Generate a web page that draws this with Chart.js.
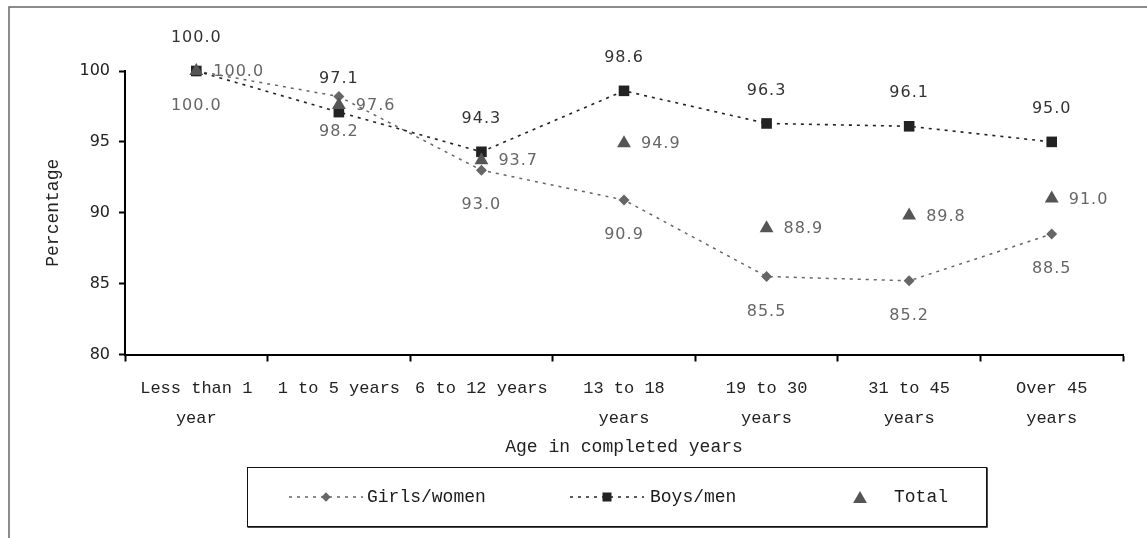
<!DOCTYPE html>
<html>
<head>
<meta charset="utf-8">
<script src="https://cdn.jsdelivr.net/npm/chart.js@4/dist/chart.umd.min.js"></script>
<style>
  html, body { margin: 0; padding: 0; background: #fff; overflow: hidden; }
  #wrap { width: 1147px; height: 538px; position: relative; }
</style>
</head>
<body>
<div id="wrap"><canvas id="c" width="1147" height="538"></canvas></div>
<script>
// Age groups (two-line labels where the text wraps)
const categories = [
  ['Less than 1', 'year'],
  '1 to 5 years',
  '6 to 12 years',
  ['13 to 18', 'years'],
  ['19 to 30', 'years'],
  ['31 to 45', 'years'],
  ['Over 45', 'years']
];
// Percentages by age group
const girlsWomen = [100.0, 98.2, 93.0, 90.9, 85.5, 85.2, 88.5];
const boysMen    = [100.0, 97.1, 94.3, 98.6, 96.3, 96.1, 95.0];
const total      = [100.0, 97.6, 93.7, 94.9, 88.9, 89.8, 91.0];
const yTicks     = [80, 85, 90, 95, 100];

const LABEL_FONT = '16px "DejaVu Sans"';
const TEXT_FAMILY = '"Liberation Mono", "DejaVu Sans Mono", monospace';

// White page with the outer frame (top and left edges visible)
const framePlugin = {
  id: 'frame',
  beforeDraw(chart) {
    const ctx = chart.ctx;
    ctx.save();
    ctx.fillStyle = '#fff';
    ctx.fillRect(0, 0, chart.width, chart.height);
    ctx.strokeStyle = '#666';
    ctx.lineWidth = 1.5;
    ctx.beginPath();
    ctx.moveTo(9, chart.height);
    ctx.lineTo(9, 7);
    ctx.lineTo(chart.width, 7);
    ctx.stroke();
    ctx.restore();
  }
};

// Value labels next to each marker
const valueLabels = {
  id: 'valueLabels',
  afterDatasetsDraw(chart) {
    const ctx = chart.ctx;
    ctx.save();
    ctx.font = LABEL_FONT;
    if ('letterSpacing' in ctx) ctx.letterSpacing = '1px';
    chart.data.datasets.forEach((ds, di) => {
      const meta = chart.getDatasetMeta(di);
      ctx.fillStyle = ds.labelColor;
      meta.data.forEach((pt, i) => {
        const txt = ds.data[i].toFixed(1);
        if (ds.labelPlace === 'above') {
          ctx.textAlign = 'center'; ctx.textBaseline = 'middle';
          ctx.fillText(txt, pt.x, pt.y - 33);
        } else if (ds.labelPlace === 'below') {
          ctx.textAlign = 'center'; ctx.textBaseline = 'middle';
          ctx.fillText(txt, pt.x, pt.y + 35);
        } else {
          ctx.textAlign = 'left'; ctx.textBaseline = 'middle';
          ctx.fillText(txt, pt.x + 17, pt.y + 1);
        }
      });
    });
    ctx.restore();
  }
};

// Boxed legend under the axis title
const boxLegend = {
  id: 'boxLegend',
  afterDraw(chart) {
    const ctx = chart.ctx;
    const box = { x: 247.5, y: 467.5, w: 739, h: 59 };
    const cy = 497;
    const items = [
      { sampleX: 289, textX: 367 },
      { sampleX: 570, textX: 650 },
      { sampleX: 848, textX: 894 }
    ];
    ctx.save();
    ctx.strokeStyle = '#111';
    ctx.lineWidth = 1;
    ctx.strokeRect(box.x, box.y, box.w, box.h);
    ctx.lineWidth = 1.5;
    ctx.beginPath();
    ctx.moveTo(box.x, box.y + box.h + 0.5);
    ctx.lineTo(box.x + box.w + 0.5, box.y + box.h + 0.5);
    ctx.lineTo(box.x + box.w + 0.5, box.y);
    ctx.stroke();

    chart.data.datasets.forEach((ds, i) => {
      const it = items[i];
      let markerX;
      if (ds.showLine === false) {
        markerX = it.sampleX + 12;
      } else {
        ctx.strokeStyle = ds.borderColor;
        ctx.lineWidth = ds.borderWidth;
        ctx.setLineDash(ds.borderDash);
        ctx.beginPath();
        ctx.moveTo(it.sampleX, cy);
        ctx.lineTo(it.sampleX + 74, cy);
        ctx.stroke();
        ctx.setLineDash([]);
        markerX = it.sampleX + 37;
      }
      ctx.fillStyle = ds.pointBackgroundColor;
      Chart.helpers.drawPoint(ctx, {
        pointStyle: ds.pointStyle,
        radius: ds.pointStyle === 'triangle' ? ds.pointRadius : ds.pointRadius * 0.85,
        rotation: 0,
        borderWidth: 0
      }, markerX, ds.pointStyle === 'triangle' ? cy + 2 : cy);
      ctx.fillStyle = '#1a1a1a';
      ctx.font = '18px ' + TEXT_FAMILY;
      ctx.textAlign = 'left';
      ctx.textBaseline = 'middle';
      ctx.fillText(ds.label, it.textX, cy);
    });
    ctx.restore();
  }
};

new Chart(document.getElementById('c'), {
  type: 'line',
  data: {
    labels: categories,
    datasets: [
      {
        label: 'Girls/women',
        data: girlsWomen,
        clip: false,
        borderColor: '#666',
        borderWidth: 1.5,
        borderDash: [3, 5],
        pointStyle: 'rectRot',
        pointRadius: 5.5,
        pointBackgroundColor: '#666',
        pointBorderColor: '#666',
        pointBorderWidth: 0,
        tension: 0,
        order: 2,
        labelPlace: 'below',
        labelColor: '#666'
      },
      {
        label: 'Boys/men',
        data: boysMen,
        clip: false,
        borderColor: '#222',
        borderWidth: 1.6,
        borderDash: [3, 5],
        pointStyle: 'rect',
        pointRadius: 7.5,
        pointBackgroundColor: '#222',
        pointBorderColor: '#222',
        pointBorderWidth: 0,
        tension: 0,
        order: 1,
        labelPlace: 'above',
        labelColor: '#333'
      },
      {
        label: 'Total',
        data: total,
        clip: false,
        showLine: false,
        pointStyle: 'triangle',
        pointRadius: 8,
        pointBackgroundColor: '#555',
        pointBorderColor: '#555',
        pointBorderWidth: 0,
        order: 0,
        labelPlace: 'right',
        labelColor: '#666'
      }
    ]
  },
  options: {
    responsive: false,
    animation: false,
    devicePixelRatio: 1,
    layout: { padding: { top: 71, right: 24, bottom: 78, left: 0 } },
    plugins: {
      legend: { display: false },
      tooltip: { enabled: false }
    },
    scales: {
      x: {
        type: 'category',
        offset: true,
        grid: {
          display: true,
          drawOnChartArea: false,
          offset: true,
          tickLength: 7,
          tickWidth: 2,
          tickColor: '#000'
        },
        border: { display: true, color: '#000', width: 2 },
        ticks: {
          padding: 12,
          color: '#222',
          maxRotation: 0,
          autoSkip: false,
          font: { family: TEXT_FAMILY, size: 17, lineHeight: 1.75 }
        },
        title: {
          display: true,
          text: 'Age in completed years',
          color: '#222',
          font: { family: TEXT_FAMILY, size: 18 },
          padding: { top: 0, bottom: 2 }
        },
        afterFit(scale) { scale.height = 105.5; }
      },
      y: {
        min: 80,
        max: 100,
        grid: {
          drawOnChartArea: false,
          tickLength: 6,
          tickWidth: 2,
          tickColor: '#000'
        },
        border: { display: true, color: '#000', width: 2 },
        ticks: {
          padding: 9,
          color: '#222',
          font: { family: '"DejaVu Sans"', size: 16 }
        },
        afterBuildTicks(scale) { scale.ticks = yTicks.map(v => ({ value: v })); },
        title: {
          display: true,
          text: 'Percentage',
          color: '#222',
          font: { family: TEXT_FAMILY, size: 18 },
          padding: { top: 42, bottom: 0 }
        },
        afterFit(scale) { scale.width = 125; }
      }
    }
  },
  plugins: [framePlugin, valueLabels, boxLegend]
});
</script>
</body>
</html>
